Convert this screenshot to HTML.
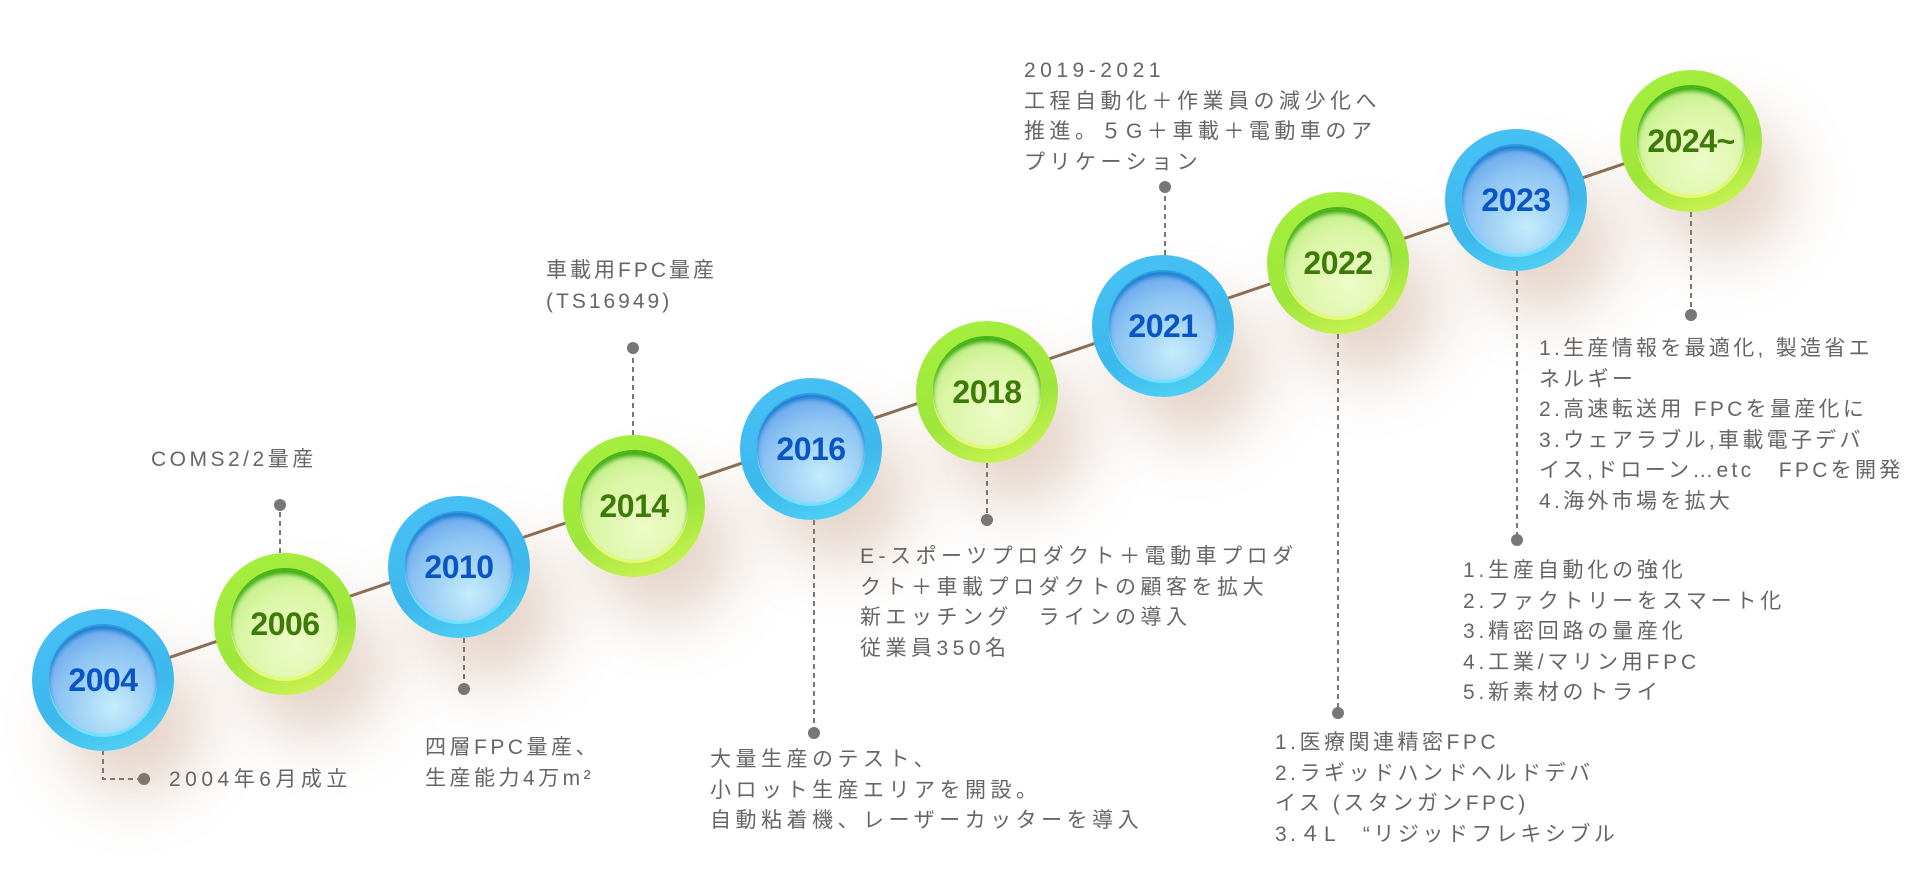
<!DOCTYPE html>
<html><head><meta charset="utf-8"><style>
body{margin:0;width:1920px;height:880px;background:#fff;position:relative;overflow:hidden;font-family:"Liberation Sans","Noto Sans CJK JP",sans-serif}
.c{position:absolute;width:142px;height:142px;border-radius:50%;box-shadow:30px 45px 60px rgba(170,115,80,0.3)}
.c .in{position:absolute;left:17px;top:17px;width:108px;height:108px;border-radius:50%;display:flex;align-items:center;justify-content:center;font-weight:bold;font-size:32px;letter-spacing:-0.5px}
.b{background:linear-gradient(160deg,#49c2f7,#3cb8ec 60%,#55d6f7)}
.b .in{background:radial-gradient(circle at 60% 75%,#c4ecfb,#8cc3f3 55%,#4d8fe8);color:#0a55c6;box-shadow:inset 0 4px 4px #1a7fd0,0 -2px 0 #2a9be0,0 3px 0 #6fe3ff}
.g{background:linear-gradient(160deg,#a6f040,#9ee63b 60%,#d6f55a)}
.g .in{background:radial-gradient(circle at 60% 70%,#eefbc8,#d9f6a4 55%,#a8e66a);color:#3e7a08;box-shadow:inset 0 4px 4px #3aaa10,0 -2px 0 #45b515,0 3px 0 #e8fb70}
.t{position:absolute;color:#666;font-size:21px;letter-spacing:4.5px;line-height:30.6px;white-space:nowrap}
</style></head><body>
<svg width="1920" height="880" style="position:absolute;left:0;top:0">
<polyline points="103,680 1691,141" stroke="#8b6f55" stroke-width="3" fill="none"/>
<g stroke="#777" stroke-width="2" stroke-dasharray="5,4" fill="none">
<polyline points="103,750 103,779 144,779"/>
<line x1="280" y1="553" x2="280" y2="505"/>
<line x1="464" y1="638" x2="464" y2="689"/>
<line x1="633" y1="435" x2="633" y2="348"/>
<line x1="814" y1="520" x2="814" y2="733"/>
<line x1="987" y1="463" x2="987" y2="520"/>
<line x1="1165" y1="255" x2="1165" y2="187"/>
<line x1="1338" y1="334" x2="1338" y2="713"/>
<line x1="1517" y1="271" x2="1517" y2="540"/>
<line x1="1691" y1="212" x2="1691" y2="315"/>
</g>
<g fill="#777">
<circle cx="144" cy="779" r="6"/><circle cx="280" cy="505" r="6"/><circle cx="464" cy="689" r="6"/>
<circle cx="633" cy="348" r="6"/><circle cx="814" cy="733" r="6"/><circle cx="987" cy="520" r="6"/>
<circle cx="1165" cy="187" r="6"/><circle cx="1338" cy="713" r="6"/><circle cx="1517" cy="540" r="6"/>
<circle cx="1691" cy="315" r="6"/>
</g>
</svg>
<div class="c b" style="left:32px;top:609px"><div class="in">2004</div></div>
<div class="c g" style="left:214px;top:553px"><div class="in">2006</div></div>
<div class="c b" style="left:388px;top:496px"><div class="in">2010</div></div>
<div class="c g" style="left:563px;top:435px"><div class="in">2014</div></div>
<div class="c b" style="left:740px;top:378px"><div class="in">2016</div></div>
<div class="c g" style="left:916px;top:321px"><div class="in">2018</div></div>
<div class="c b" style="left:1092px;top:255px"><div class="in">2021</div></div>
<div class="c g" style="left:1267px;top:192px"><div class="in">2022</div></div>
<div class="c b" style="left:1445px;top:129px"><div class="in">2023</div></div>
<div class="c g" style="left:1620px;top:70px"><div class="in">2024~</div></div>

<div class="t" style="left:169px;top:765px">2004年6月成立</div>
<div class="t" style="left:151px;top:445px;letter-spacing:3.5px">COMS2/2量産</div>
<div class="t" style="left:425px;top:733px;letter-spacing:3.5px">四層FPC量産、<br>生産能力4万m²</div>
<div class="t" style="left:546px;top:256px;letter-spacing:3px">車載用FPC量産<br>(TS16949)</div>
<div class="t" style="left:710px;top:745px">大量生産のテスト、<br>小ロット生産エリアを開設。<br>自動粘着機、レーザーカッターを導入</div>
<div class="t" style="left:860px;top:542px">E-スポーツプロダクト＋電動車プロダ<br>クト＋車載プロダクトの顧客を拡大<br>新エッチング　ラインの導入<br>従業員350名</div>
<div class="t" style="left:1024px;top:56px">2019-2021<br>工程自動化＋作業員の減少化へ<br>推進。５G＋車載＋電動車のア<br>プリケーション</div>
<div class="t" style="left:1275px;top:728px;letter-spacing:3.5px">1.医療関連精密FPC<br>2.ラギッドハンドヘルドデバ<br>イス (スタンガンFPC)<br>3.４L　“リジッドフレキシブル</div>
<div class="t" style="left:1463px;top:556px;letter-spacing:3.8px">1.生産自動化の強化<br>2.ファクトリーをスマート化<br>3.精密回路の量産化<br>4.工業/マリン用FPC<br>5.新素材のトライ</div>
<div class="t" style="left:1539px;top:334px;letter-spacing:3.3px">1.生産情報を最適化, 製造省エ<br>ネルギー<br>2.高速転送用 FPCを量産化に<br>3.ウェアラブル,車載電子デバ<br>イス,ドローン…etc　FPCを開発<br>4.海外市場を拡大</div>
</body></html>
